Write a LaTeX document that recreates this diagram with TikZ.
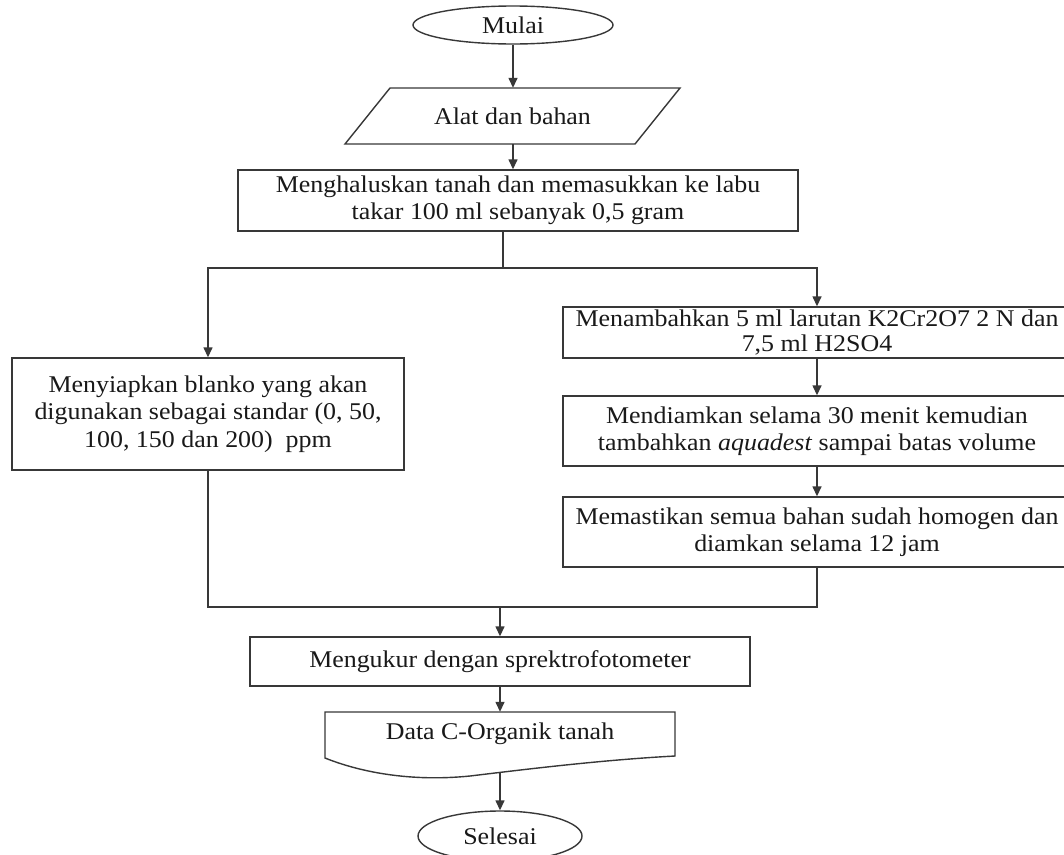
\documentclass[tikz,border=0pt]{standalone}
\usepackage{fontspec}
\setmainfont{Liberation Serif}[FakeStretch=1.08]
\usetikzlibrary{arrows.meta,shapes.geometric}
\tikzset{
  ln/.style={draw=black!78, line width=1.4pt},
  arr/.style={ln, -{Triangle[length=10pt,width=9pt]}},
  txt/.style={font=\fontsize{24}{27.5}\selectfont, align=center, inner sep=0pt, text=black!90},
  procbox/.style={txt, ln, rectangle},
  termnode/.style={txt, ln, ellipse, inner sep=0pt},
}
\begin{document}
\begin{tikzpicture}[x=1pt,y=-1pt]
\path[use as bounding box] (0,0) rectangle (1064,854);
\clip (0,0) rectangle (1064,854);
\fill[white] (0,0) rectangle (1064,854);

% terminator top
\node[termnode, minimum width=200, minimum height=38] (mulai) at (513,25) {Mulai};

% input parallelogram
\node[txt, minimum width=290, minimum height=56] (para) at (512.5,116) {Alat dan bahan};
\draw[ln] (390,88) -- (680,88) -- (635,144) -- (345,144) -- cycle;

% first process
\node[procbox, minimum width=560, minimum height=61] (b1) at (518,200.5)
  {Menghaluskan tanah dan memasukkan ke labu\\takar 100 ml sebanyak 0,5 gram};

% left branch
\node[procbox, minimum width=392, minimum height=112] (left) at (208,414)
  {Menyiapkan blanko yang akan\\digunakan sebagai standar (0, 50,\\100, 150 dan 200)~ ppm};

% right branch
\node[procbox, minimum width=508, minimum height=51, font=\fontsize{24}{25}\selectfont] (r1) at (817,332.5)
  {Menambahkan 5 ml larutan K2Cr2O7 2 N dan\\7,5 ml H2SO4};
\node[procbox, minimum width=508, minimum height=70] (r2) at (817,431)
  {Mendiamkan selama 30 menit kemudian\\tambahkan \textit{aquadest} sampai batas volume};
\node[procbox, minimum width=508, minimum height=70] (r3) at (817,532)
  {Memastikan semua bahan sudah homogen dan\\diamkan selama 12 jam};

% measure
\node[procbox, minimum width=500, minimum height=49] (meng) at (500,661.5)
  {Mengukur dengan sprektrofotometer};

% document
\node[txt, minimum width=350, minimum height=44] (doc) at (500,734) {Data C-Organik tanah};
\draw[ln] (325,712) -- (675,712) -- (675,756)
  .. controls (600,760) and (520,770) .. (470,776)
  .. controls (410,782) and (360,772) .. (325,758) -- cycle;
\coordinate (docbot) at (500,773);

% terminator bottom
\node[termnode, minimum width=164, minimum height=50] (selesai) at (500,836) {Selesai};

% connectors
\coordinate (split) at (503,268);
\coordinate (merge) at (500,607);
\draw[arr] (mulai.south) -- (mulai.south |- para.north);
\draw[arr] (para.south -| mulai.south) -- (b1.north -| mulai.south);
\draw[ln] (b1.south -| split) -- (split);
\draw[arr] (split) -| (left.north);
\draw[arr] (split) -| (r1.north);
\draw[arr] (r1.south) -- (r2.north);
\draw[arr] (r2.south) -- (r3.north);
\draw[ln] (left.south) |- (merge) -| (r3.south);
\draw[arr] (merge) -- (meng.north);
\draw[arr] (meng.south) -- (doc.north -| meng.south);
\draw[arr] (docbot) -- (selesai.north);
\end{tikzpicture}
\end{document}
